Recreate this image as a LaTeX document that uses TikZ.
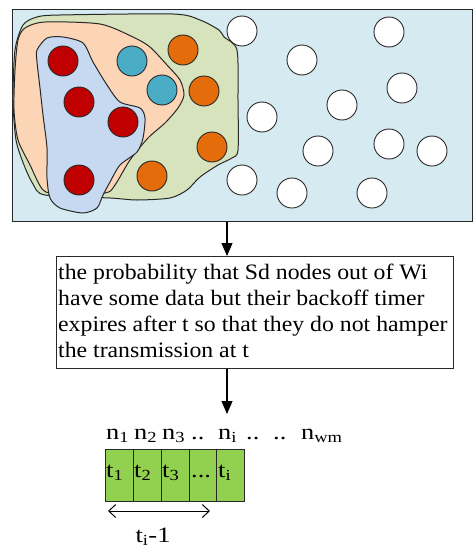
\documentclass[tikz,border=0pt]{standalone}
\usepackage{fontspec}
\setmainfont{Liberation Serif}
\newfontfamily\widefont[FakeStretch=1.08]{Liberation Serif}
\newfontfamily\labelfont[FakeStretch=1.2]{Liberation Serif}
\usetikzlibrary{arrows.meta}
\definecolor{bgblue}{RGB}{214,234,241}
\definecolor{greenblob}{RGB}{214,227,188}
\definecolor{peach}{RGB}{251,213,181}
\definecolor{blueblob}{RGB}{198,217,241}
\definecolor{nodered}{RGB}{192,0,0}
\definecolor{nodeteal}{RGB}{75,172,198}
\definecolor{nodeorange}{RGB}{228,108,10}
\definecolor{cellgreen}{RGB}{146,208,80}
\definecolor{edge}{RGB}{40,40,40}
\begin{document}
\begin{tikzpicture}[x=1pt,y=-1pt,
  blob/.style={draw=edge,line width=1pt},
  dot/.style={circle,draw=edge,line width=0.9pt,minimum size=30pt,inner sep=0pt},
  wdot/.style={dot,fill=white},
  rdot/.style={dot,fill=nodered},
  tdot/.style={dot,fill=nodeteal},
  odot/.style={dot,fill=nodeorange},
  arr/.style={line width=1.1pt,-{Triangle[width=11pt,length=13pt]}},
  cell/.style={draw=edge,fill=cellgreen,line width=0.9pt,minimum width=27.85pt,minimum height=52pt,anchor=north west,inner sep=0pt},
  lbl/.style={anchor=base west,inner sep=0pt,font=\labelfont\fontsize{22}{24}\selectfont}
]
\useasboundingbox (0,0) rectangle (474,549);
% field
\node[draw=edge,fill=bgblue,line width=1.2pt,minimum width=460pt,minimum height=212pt,anchor=north west,inner sep=0pt] (field) at (12,9) {};
% green blob
\path[blob,fill=greenblob] plot[smooth cycle,tension=0.45] coordinates {
 (23,25) (37,17) (60,15) (173,14) (200,20) (219,30) (224,37) (237,50) (238,100) (238,150)
 (232,158) (218,165) (200,177) (187,190) (170,198) (137,200) (110,198) (45,195) (33,184) (24,165) (16,140) (13,100) (15,50)};
% peach blob
\path[blob,fill=peach] plot[smooth cycle,tension=0.45] coordinates {
 (25,28) (45,22) (100,24) (133,37) (150,47) (167,65) (180,80) (184,95) (178,108) (165,123) (148,138) (130,160) (115,185) (105,193) (60,194) (43,190) (30,165) (18,140) (14,110) (15,70) (18,40)};
% blue blob
\path[blob,fill=blueblob] plot[smooth cycle,tension=0.45] coordinates {
 (37,50) (47,38) (63,37) (83,43) (93,62) (107,85) (120,102) (140,108) (145,118) (143,138) (137,152) (120,165) (110,182) (103,195) (97,208) (83,213) (60,208) (50,198) (47,178) (47,148) (43,115) (40,88) (37,62)};
% coloured nodes
\node[rdot] (r1) at (63,61) {};
\node[rdot] (r2) at (79,102) {};
\node[rdot] (r3) at (123,122) {};
\node[rdot] (r4) at (79,180) {};
\node[tdot] (b1) at (132,61) {};
\node[tdot] (b2) at (162,90) {};
\node[odot] (o1) at (183,50) {};
\node[odot] (o2) at (204,91) {};
\node[odot] (o3) at (212,147) {};
\node[odot] (o4) at (152,176) {};
% white nodes
\node[wdot] (w1) at (242,31) {};
\node[wdot] (w2) at (302,60) {};
\node[wdot] (w3) at (389,32) {};
\node[wdot] (w4) at (402,88) {};
\node[wdot] (w5) at (342,105) {};
\node[wdot] (w6) at (262,117) {};
\node[wdot] (w7) at (318,151) {};
\node[wdot] (w8) at (389,144) {};
\node[wdot] (w9) at (432,151) {};
\node[wdot] (w10) at (242,180) {};
\node[wdot] (w11) at (292,193) {};
\node[wdot] (w12) at (372,193) {};
% text box
\node[draw=edge,line width=1pt,anchor=north west,minimum width=397pt,minimum height=112pt,inner sep=0pt] (box) at (56,256) {};
\node[anchor=north west,inner sep=0pt,align=left,font=\widefont\fontsize{22}{26}\selectfont] (txt) at (58,264)
 {the probability that Sd nodes out of Wi\\have some data but their backoff timer\\expires after t so that they do not hamper\\the transmission at t};
\coordinate (ax) at (227,0);
\coordinate (slot) at (227,414);
\draw[arr] (field.south -| ax) -- (box.north -| ax);
\draw[arr] (box.south -| ax) -- (slot);
% slot labels
\node[lbl] (n1) at (106,439) {n\textsubscript{1}};
\node[lbl] (n2) at (134,439) {n\textsubscript{2}};
\node[lbl] (n3) at (162,439) {n\textsubscript{3}};
\node[lbl] (d1) at (191,439) {..};
\node[lbl] (ni) at (218,439) {n\textsubscript{i}};
\node[lbl] (d2) at (246,439) {..};
\node[lbl] (d3) at (273,439) {..};
\node[lbl] (nwm) at (301,439) {n\textsubscript{wm}};
% cells
\node[cell] (c1) at (105,449) {};
\node[cell] (c2) at (132.85,449) {};
\node[cell] (c3) at (160.7,449) {};
\node[cell] (c4) at (188.55,449) {};
\node[cell] (c5) at (216.4,449) {};
\node[lbl] (t1) at (106,477) {t\textsubscript{1}};
\node[lbl] (t2) at (134,477) {t\textsubscript{2}};
\node[lbl] (t3) at (162,477) {t\textsubscript{3}};
\node[lbl] (t4) at (191,477) {...};
\node[lbl] (t5) at (218,477) {t\textsubscript{i}};
% span arrow
\coordinate (sa) at (108,511);
\coordinate (sb) at (210,511);
\draw[line width=1pt,{Straight Barb[length=7pt,width=13pt]}-{Straight Barb[length=7pt,width=13pt]}] (sa) -- (sb);
\node[anchor=base,inner sep=0pt,font=\labelfont\fontsize{22}{24}\selectfont] (span) at (153,542) {t\textsubscript{i}-1};
\end{tikzpicture}
\end{document}
